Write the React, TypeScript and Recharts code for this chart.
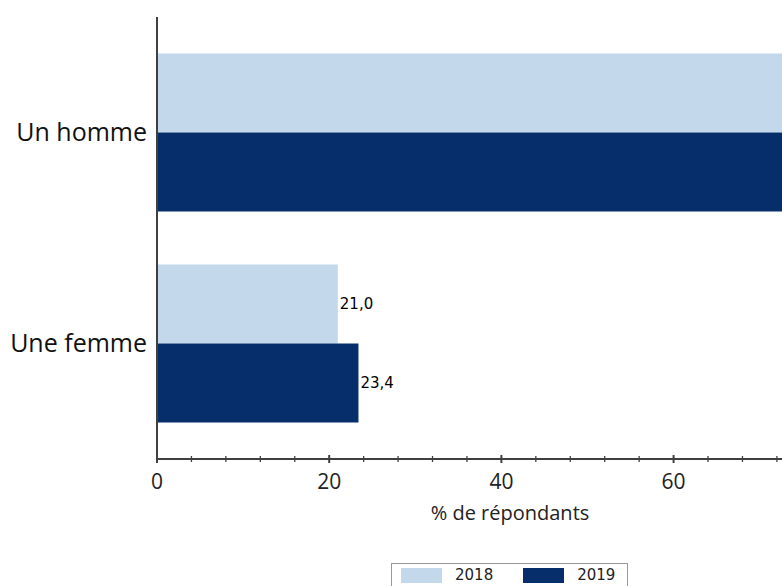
import { BarChart, Bar, XAxis, YAxis, LabelList } from "recharts";

const categories = ["Un homme", "Une femme"];
const values2018 = [79.0, 21.0];
const values2019 = [76.6, 23.4];
const xTicks = [0, 4, 8, 12, 16, 20, 24, 28, 32, 36, 40, 44, 48, 52, 56, 60, 64, 68, 72];

const LIGHT = "#c4d8ec";
const DARK = "#052e6a";
const AXIS = "#404040";
const FONT = "'Open Sans', sans-serif";

const data = categories.map((name, i) => ({
  name,
  y2018: values2018[i],
  y2019: values2019[i],
}));

const fmt = (v: any) => Number(v).toFixed(1).replace(".", ",");

function XTick(props: any) {
  const { x, y, payload } = props;
  const major = payload.value % 20 === 0;
  return (
    <g>
      <line
        x1={x}
        x2={x}
        y1={y - (major ? 4 : 3)}
        y2={y + (major ? 4 : 3)}
        stroke={AXIS}
        strokeWidth={major ? 2 : 1.3}
      />
      {major && (
        <text x={x} y={y + 30} textAnchor="middle" fontSize={21} fontFamily={FONT} fill="#222">
          {payload.value}
        </text>
      )}
    </g>
  );
}

export default function App() {
  return (
    <div
      style={{
        position: "fixed",
        left: 0,
        top: 0,
        width: 782,
        height: 586,
        overflow: "hidden",
        background: "#fff",
      }}
    >
      <BarChart
        width={905}
        height={586}
        data={data}
        layout="vertical"
        margin={{ top: 17, right: 42, bottom: 57, left: 0 }}
        barCategoryGap="12.5%"
        barGap={0}
      >
        <XAxis
          type="number"
          domain={[0, 82]}
          ticks={xTicks}
          interval={0}
          height={70}
          tickSize={0}
          tickMargin={0}
          tickLine={false}
          tick={<XTick />}
          axisLine={{ stroke: AXIS, strokeWidth: 2 }}
          label={{
            value: "% de répondants",
            position: "insideBottom",
            offset: 9,
            style: { fontSize: 20, fill: "#222", fontFamily: FONT },
          }}
        />
        <YAxis
          type="category"
          dataKey="name"
          width={157}
          padding={{ top: 10, bottom: 10 }}
          tickSize={0}
          tickMargin={10}
          tickLine={false}
          axisLine={{ stroke: AXIS, strokeWidth: 2 }}
          tick={{ fontSize: 25, fill: "#111", fontFamily: FONT }}
        />
        <Bar dataKey="y2018" name="2018" fill={LIGHT} isAnimationActive={false}>
          <LabelList
            dataKey="y2018"
            position="right"
            offset={2}
            formatter={fmt}
            style={{ fontSize: 15, fill: "#000", fontFamily: "'DejaVu Sans', sans-serif" }}
          />
        </Bar>
        <Bar dataKey="y2019" name="2019" fill={DARK} isAnimationActive={false}>
          <LabelList
            dataKey="y2019"
            position="right"
            offset={2}
            formatter={fmt}
            style={{ fontSize: 15, fill: "#000", fontFamily: "'DejaVu Sans', sans-serif" }}
          />
        </Bar>
      </BarChart>
      <div
        style={{
          position: "absolute",
          left: 391,
          top: 563,
          width: 237,
          height: 40,
          border: "1px solid #999",
          display: "flex",
          alignItems: "flex-start",
          paddingTop: 3,
          boxSizing: "border-box",
          fontFamily: "'DejaVu Sans', sans-serif",
          fontSize: 15,
          color: "#222",
        }}
      >
        {[
          { label: "2018", color: LIGHT },
          { label: "2019", color: DARK },
        ].map((s, i) => (
          <div key={s.label} style={{ display: "flex", alignItems: "center", marginLeft: i === 0 ? 9 : 30 }}>
            <div style={{ width: 41, height: 15, background: s.color, marginRight: 13 }} />
            <span style={{ lineHeight: "16px" }}>{s.label}</span>
          </div>
        ))}
      </div>
    </div>
  );
}
